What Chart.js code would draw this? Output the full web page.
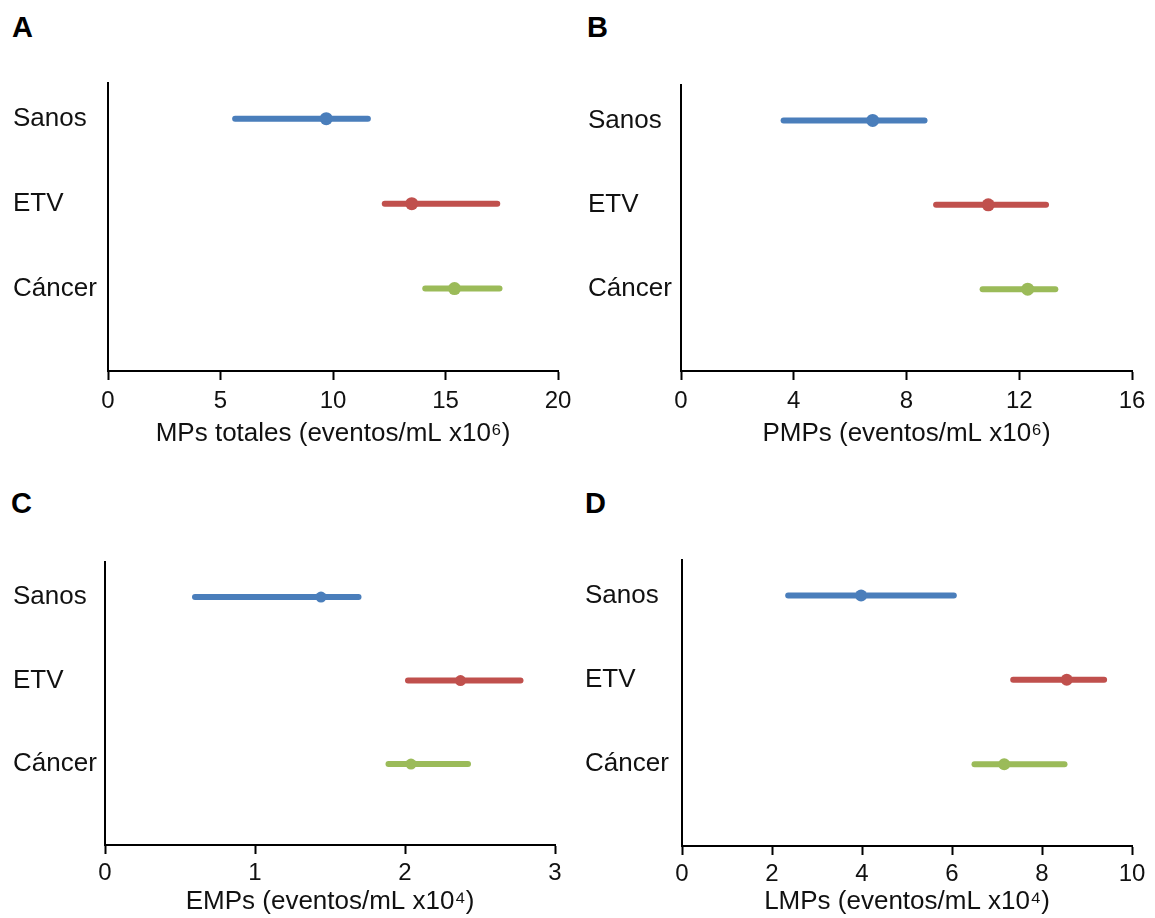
<!DOCTYPE html>
<html>
<head>
<meta charset="utf-8">
<script src="https://cdn.jsdelivr.net/npm/chart.js@4.4.1/dist/chart.umd.min.js"></script>
<style>
  body { margin: 0; background: #fff; width: 1155px; height: 918px; overflow: hidden; position: relative; font-family: "Liberation Sans", Arial, sans-serif; }
  .panel { position: absolute; }
  .letter { position: absolute; font-weight: bold; font-size: 29px; color: #000; line-height: 1; }
</style>
</head>
<body>
<div class="letter" style="left:12px;top:13px">A</div>
<div class="letter" style="left:587px;top:13px">B</div>
<div class="letter" style="left:11px;top:489px">C</div>
<div class="letter" style="left:585px;top:489px">D</div>

<div class="panel" style="left:0;top:60px;width:580px;height:389px"><canvas id="chartA" width="580" height="389"></canvas></div>
<div class="panel" style="left:575px;top:60px;width:580px;height:389px"><canvas id="chartB" width="580" height="389"></canvas></div>
<div class="panel" style="left:0;top:537px;width:580px;height:380px"><canvas id="chartC" width="580" height="380"></canvas></div>
<div class="panel" style="left:572px;top:537px;width:583px;height:380px"><canvas id="chartD" width="583" height="380"></canvas></div>

<script>
const categories = ['Sanos', 'ETV', 'Cáncer'];

// A: MPs totales (x10^6)
const mpsLow = [5.65, 12.3, 14.1];
const mpsHigh = [11.55, 17.3, 17.4];
const mpsMedian = [9.7, 13.5, 15.4];

// B: PMPs (x10^6)
const pmpsLow = [3.64, 9.05, 10.7];
const pmpsHigh = [8.64, 12.95, 13.28];
const pmpsMedian = [6.8, 10.9, 12.3];

// C: EMPs (x10^4)
const empsLow = [0.6, 2.02, 1.89];
const empsHigh = [1.69, 2.77, 2.42];
const empsMedian = [1.44, 2.37, 2.04];

// D: LMPs (x10^4)
const lmpsLow = [2.36, 7.36, 6.5];
const lmpsHigh = [6.04, 9.38, 8.5];
const lmpsMedian = [3.98, 8.55, 7.16];

const groupColors = ['#4a7ebb', '#c0504d', '#9bbb59'];
const FONT = '"Liberation Sans", Arial, sans-serif';

function makePanel(id, low, high, median, xMax, xStep, xTitle, layout) {
    const ctx = document.getElementById(id);
    const datasets = categories.map((c, i) => ({
        label: c,
        data: [{ x: low[i], y: i + 1 }, { x: high[i], y: i + 1 }],
        showLine: true,
        borderColor: groupColors[i],
        borderWidth: 6,
        borderCapStyle: 'round',
        pointRadius: 0
    }));
    datasets.push({
        label: 'Mediana',
        data: median.map((m, i) => ({ x: m, y: i + 1 })),
        showLine: false,
        pointRadius: layout.r,
        pointBackgroundColor: groupColors,
        pointBorderColor: groupColors,
        pointBorderWidth: 0
    });
    new Chart(ctx, {
        type: 'scatter',
        data: { datasets },
        options: {
            responsive: false,
            animation: false,
            devicePixelRatio: 1,
            layout: { padding: { left: 13, right: layout.padRight, top: layout.padTop, bottom: 0 } },
            plugins: { legend: { display: false }, tooltip: { enabled: false } },
            scales: {
                x: {
                    type: 'linear',
                    min: 0, max: xMax,
                    afterFit: s => { s.height = layout.xHeight; },
                    ticks: { stepSize: xStep, color: '#111', font: { family: FONT, size: 24 }, padding: layout.tickPad },
                    grid: { drawOnChartArea: false, drawTicks: true, tickLength: 9, tickColor: '#000', tickWidth: 2 },
                    border: { display: true, color: '#000', width: 2 },
                    title: { display: true, text: xTitle, color: '#111', font: { family: FONT, size: 26 }, padding: 0 }
                },
                y: {
                    type: 'linear',
                    reverse: true,
                    min: 0.58, max: 3.97,
                    afterFit: s => { s.width = layout.yWidth; },
                    afterBuildTicks: s => { s.ticks = [1, 2, 3].map(v => ({ value: v })); },
                    ticks: {
                        crossAlign: 'far',
                        color: '#111',
                        font: { family: FONT, size: 26 },
                        callback: v => categories[v - 1] || ''
                    },
                    grid: { drawOnChartArea: false, drawTicks: false },
                    border: { display: true, color: '#000', width: 2 }
                }
            }
        }
    });
}

makePanel('chartA', mpsLow, mpsHigh, mpsMedian, 20, 5, 'MPs totales (eventos/mL x10⁶)',
    { padTop: 23, padRight: 22, yWidth: 95, xHeight: 78, tickPad: 7, r: 6.5 });
makePanel('chartB', pmpsLow, pmpsHigh, pmpsMedian, 16, 4, 'PMPs (eventos/mL x10⁶)',
    { padTop: 25, padRight: 23, yWidth: 93, xHeight: 78, tickPad: 7, r: 6.5 });
makePanel('chartC', empsLow, empsHigh, empsMedian, 3, 1, 'EMPs (eventos/mL x10⁴)',
    { padTop: 25, padRight: 25, yWidth: 92, xHeight: 72, tickPad: 5, r: 5.5 });
makePanel('chartD', lmpsLow, lmpsHigh, lmpsMedian, 10, 2, 'LMPs (eventos/mL x10⁴)',
    { padTop: 23, padRight: 23, yWidth: 97, xHeight: 71, tickPad: 5, r: 6 });
</script>
</body>
</html>
